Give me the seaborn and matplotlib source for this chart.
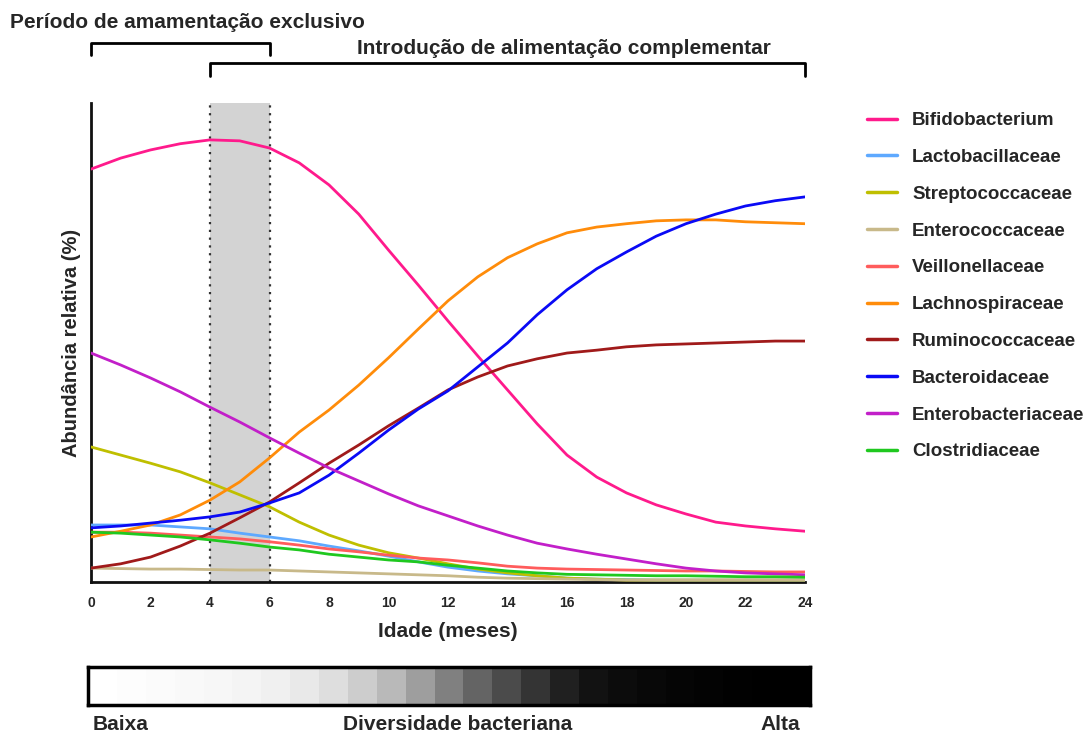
import numpy as np
import pandas as pd
import matplotlib
matplotlib.use("Agg")
import matplotlib.pyplot as plt
import seaborn as sns

# ---- data ----
meses = list(range(0, 25))

familias = [
    "Bifidobacterium", "Lactobacillaceae", "Streptococcaceae", "Enterococcaceae",
    "Veillonellaceae", "Lachnospiraceae", "Ruminococcaceae", "Bacteroidaceae",
    "Enterobacteriaceae", "Clostridiaceae",
]
cores = [
    "#FF1A8C", "#5EA9FF", "#BFBF00", "#C8B98A", "#FF5C5C",
    "#FF8C0A", "#A01A1A", "#0A0AF5", "#C21FC9", "#1FC81F",
]

bifido = [86.2, 88.5, 90.2, 91.5, 92.3, 92.1, 90.6, 87.5, 82.9, 76.8, 69.3, 62.0, 54.5,
          47.2, 40.1, 33.0, 26.5, 21.9, 18.6, 16.1, 14.2, 12.5, 11.7, 11.1, 10.6]
lacto = [11.9, 11.9, 11.9, 11.5, 11.1, 10.2, 9.4, 8.6, 7.5, 6.5, 5.4, 4.2, 3.1,
         2.3, 1.7, 1.3, 0.8, 0.6, 0.5, 0.4, 0.4, 0.4, 0.4, 0.4, 0.4]
strepto = [28.2, 26.5, 24.8, 23.0, 20.7, 18.2, 15.7, 12.5, 9.8, 7.7, 6.1, 5.0, 3.8,
           2.7, 1.9, 1.3, 0.8, 0.6, 0.4, 0.4, 0.4, 0.4, 0.4, 0.4, 0.4]
entero = [2.9, 2.8, 2.7, 2.7, 2.6, 2.5, 2.5, 2.3, 2.1, 1.9, 1.7, 1.5, 1.3,
          1.0, 0.8, 0.7, 0.6, 0.5, 0.4, 0.4, 0.4, 0.4, 0.4, 0.4, 0.4]
veillo = [10.4, 10.4, 10.2, 9.8, 9.4, 9.0, 8.4, 7.7, 6.9, 6.3, 5.6, 5.0, 4.6,
          4.0, 3.3, 2.9, 2.7, 2.6, 2.5, 2.4, 2.3, 2.3, 2.2, 2.1, 2.1]
lachno = [9.4, 10.6, 11.9, 14.0, 17.1, 20.9, 25.9, 31.3, 35.9, 41.1, 46.8, 52.8, 58.7,
          63.7, 67.7, 70.6, 72.9, 74.1, 74.8, 75.4, 75.6, 75.6, 75.2, 75.0, 74.8]
rumino = [2.9, 3.8, 5.2, 7.5, 10.2, 13.4, 16.7, 20.7, 24.8, 28.6, 32.6, 36.3, 40.1,
          42.8, 45.1, 46.6, 47.8, 48.4, 49.1, 49.5, 49.7, 49.9, 50.1, 50.3, 50.3]
bactero = [11.3, 11.7, 12.3, 12.9, 13.6, 14.6, 16.5, 18.6, 22.3, 26.9, 31.7, 36.1, 39.9,
           44.9, 49.9, 55.8, 61.0, 65.4, 68.9, 72.2, 74.8, 76.8, 78.5, 79.6, 80.4]
enterobac = [47.8, 45.3, 42.6, 39.7, 36.5, 33.4, 30.1, 26.9, 23.8, 21.1, 18.4, 15.9, 13.8,
             11.7, 9.8, 8.1, 6.9, 5.8, 4.8, 3.8, 2.9, 2.3, 1.9, 1.7, 1.5]
clostri = [10.4, 10.2, 9.8, 9.4, 8.8, 8.1, 7.3, 6.7, 5.8, 5.2, 4.6, 4.2, 3.5,
           2.9, 2.3, 1.9, 1.6, 1.5, 1.4, 1.3, 1.3, 1.2, 1.1, 1.1, 1.0]

series = [bifido, lacto, strepto, entero, veillo, lachno, rumino, bactero, enterobac, clostri]

# diversity bar: grey level per month (255 = white)
diversidade = [255, 253, 251, 249, 247, 244, 240, 233, 222, 205, 185, 158, 128,
               100, 75, 52, 32, 18, 12, 8, 5, 3, 1, 0, 0]

df = pd.DataFrame({
    "mes": meses * len(familias),
    "abund": [v for s in series for v in s],
    "familia": [f for f in familias for _ in meses],
})

sns.set_style("white")
plt.rcParams["font.family"] = ["Liberation Sans", "DejaVu Sans"]
plt.rcParams["font.weight"] = "bold"
plt.rcParams["axes.labelweight"] = "bold"

W, H = 1089, 738
fig = plt.figure(figsize=(W / 100, H / 100), dpi=100)
ax = fig.add_axes([91 / W, 1 - 582 / H, 714 / W, 479 / H])

# shaded window 4-6 months
ax.axvspan(4, 6, color="#D3D3D3", zorder=0, lw=0)
for xv in (4, 6):
    ax.axvline(xv, color="#333333", ls=(0, (1, 2.5)), lw=1.6, zorder=1)

sns.lineplot(data=df, x="mes", y="abund", hue="familia", hue_order=familias,
             palette=dict(zip(familias, cores)), lw=2.0, ax=ax, zorder=3)

ax.set_xlim(0, 24)
ax.set_ylim(0, 100)
ax.set_xticks(range(0, 25, 2))
ax.set_yticks([])
ax.tick_params(axis="x", direction="out", length=6, width=1.8, labelsize=10, pad=4)
for t in ax.get_xticklabels():
    t.set_fontweight("bold")
for side in ("top", "right"):
    ax.spines[side].set_visible(False)
for side in ("left", "bottom"):
    ax.spines[side].set_linewidth(2)
    ax.spines[side].set_color("#111111")

ax.set_xlabel("Idade (meses)", fontsize=15, fontweight="bold", va="center")
ax.xaxis.set_label_coords(0.5, -0.104)
ax.set_ylabel("Abundância relativa (%)", fontsize=14.5, fontweight="bold", va="center")
ax.yaxis.set_label_coords(-0.027, 0.5)

# legend on the right
handles, labels = ax.get_legend_handles_labels()
ax.get_legend().remove()
leg = fig.legend(handles, labels, loc="upper left", bbox_to_anchor=(867 / W, 1 - 112 / H),
                 frameon=False, fontsize=13.5, handlelength=1.6, handletextpad=0.8,
                 labelspacing=1.05, borderpad=0, borderaxespad=0)
for t in leg.get_texts():
    t.set_fontweight("bold")
for ln in leg.get_lines():
    ln.set_linewidth(2.5)

# brackets for the feeding periods
tr = ax.get_xaxis_transform()
ax.plot([0, 0, 6, 6], [1.100, 1.1253, 1.1253, 1.100], color="black", lw=2,
        transform=tr, clip_on=False)
ax.plot([4, 4, 24, 24], [1.0564, 1.0835, 1.0835, 1.0564], color="black", lw=2,
        transform=tr, clip_on=False)
fig.text(10 / W, 1 - 22 / H, "Período de amamentação exclusivo", fontsize=15,
         fontweight="bold", ha="left", va="center")
fig.text(564 / W, 1 - 48 / H, "Introdução de alimentação complementar", fontsize=15,
         fontweight="bold", ha="center", va="center")

# diversity bar
bax = fig.add_axes([88 / W, 1 - 705 / H, 722 / W, 38 / H])
sns.heatmap(np.array([diversidade]), cmap="gray", vmin=0, vmax=255, cbar=False,
            xticklabels=False, yticklabels=False, ax=bax)
for side in bax.spines.values():
    side.set_visible(True)
    side.set_linewidth(2.5)
    side.set_color("black")

fig.text(93 / W, 1 - 725 / H, "Baixa", fontsize=15, fontweight="bold", ha="left", va="center")
fig.text(458 / W, 1 - 725 / H, "Diversidade bacteriana", fontsize=15, fontweight="bold",
         ha="center", va="center")
fig.text(800 / W, 1 - 725 / H, "Alta", fontsize=15, fontweight="bold", ha="right", va="center")

fig.savefig("out.png", dpi=100)
